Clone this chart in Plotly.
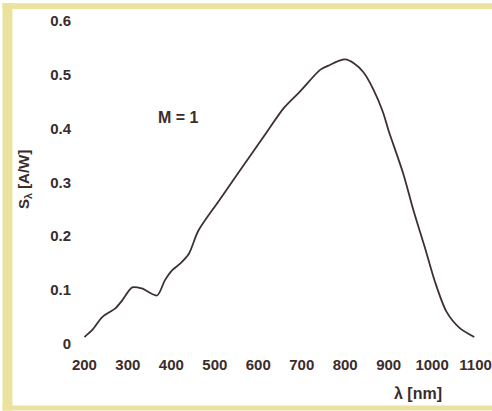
import plotly.graph_objects as go

wavelength_nm = [200, 218, 241, 271, 287, 310, 332, 367, 385, 401, 420, 440, 462, 508, 545, 584,
                 623, 659, 698, 743, 766, 785, 800, 820, 842, 865, 887, 899, 934, 957, 983, 1006,
                 1033, 1063, 1097]
responsivity = [0.013, 0.026, 0.050, 0.066, 0.081, 0.105, 0.103, 0.090, 0.118, 0.136, 0.149, 0.167,
                0.210, 0.264, 0.307, 0.352, 0.397, 0.438, 0.470, 0.509, 0.518, 0.525, 0.528, 0.521,
                0.504, 0.472, 0.430, 0.398, 0.315, 0.248, 0.180, 0.117, 0.060, 0.030, 0.013]
x_ticks = [200, 300, 400, 500, 600, 700, 800, 900, 1000, 1100]
y_ticks = [0, 0.1, 0.2, 0.3, 0.4, 0.5, 0.6]
y_tick_text = ["0", "0.1", "0.2", "0.3", "0.4", "0.5", "0.6"]

SX = 1.025
W, H = round(492 * SX), 411
L, R, T, B = round(82 * SX), W - round(476 * SX), 17, 67
pw, ph = W - L - R, H - T - B

def px(xp):
    return (xp * SX - L) / pw

def py(yp):
    return (H - B - yp) / ph

txt = "#3b2c2c"
fam = "Liberation Sans, Arial, sans-serif"
font = dict(family=fam, size=15, color=txt, weight="bold")
frame = "#ebe29e"

fig = go.Figure()
fig.add_trace(go.Scatter(x=wavelength_nm, y=responsivity, mode="lines",
                         line=dict(color="#3d3033", width=1.8, shape="spline", smoothing=0.8),
                         hoverinfo="skip", showlegend=False))

border = [(0, 10, 0, H), (0, 520, 0, 6), (0, 520, 406, H)]
shapes = [dict(type="rect", xref="paper", yref="paper", layer="below",
               x0=px(a), x1=px(b), y0=py(d), y1=py(c),
               fillcolor=frame, line=dict(width=0)) for a, b, c, d in border]

fig.update_layout(
    width=W, height=H, autosize=False,
    margin=dict(l=L, r=R, t=T, b=B),
    paper_bgcolor="white",
    plot_bgcolor="white",
    font=font,
    xaxis=dict(range=[199, 1101], tickvals=x_ticks, showgrid=False, zeroline=False,
               showline=False, ticks="", tickfont=font, ticklabelstandoff=10),
    yaxis=dict(range=[0, 0.601], tickvals=y_ticks, ticktext=y_tick_text, showgrid=False,
               zeroline=False, showline=False, ticks="", tickfont=font, ticklabelstandoff=12),
    shapes=shapes,
    annotations=[
        dict(text="M = 1", x=417, y=0.42, xref="x", yref="y", showarrow=False,
             xanchor="center", yanchor="middle",
             font=dict(family=fam, size=16, color=txt, weight="bold")),
        dict(text="λ [nm]", x=px(418), y=py(394), xref="paper", yref="paper", showarrow=False,
             xanchor="center", yanchor="middle",
             font=dict(family=fam, size=16, color=txt, weight="bold")),
        dict(text="S<sub>λ</sub> [A/W]", x=px(22), y=py(178), xref="paper", yref="paper",
             showarrow=False, textangle=-90, xanchor="center", yanchor="middle",
             font=dict(family=fam, size=15, color=txt, weight="bold")),
    ],
)

fig.write_html("out.html", config={"responsive": False})
